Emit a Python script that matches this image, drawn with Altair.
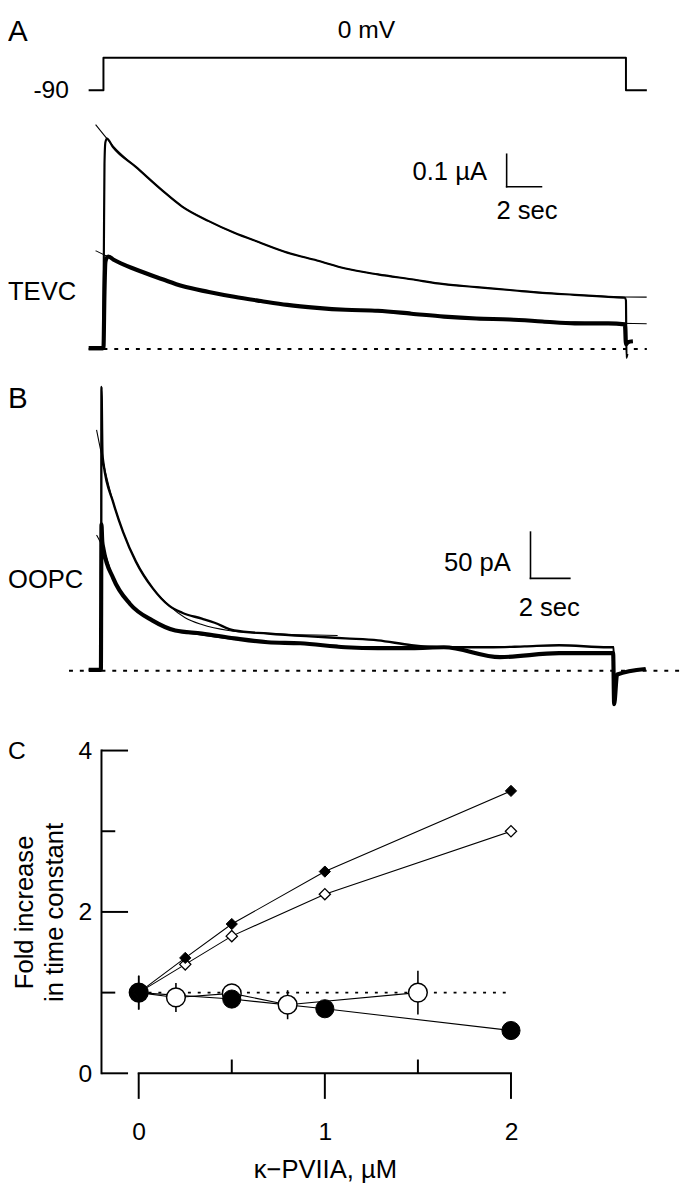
import altair as alt
import pandas as pd

FONT = "Liberation Sans"

# ---------------- Panel A : TEVC (time s, current uA, voltage mV) ----------------
a_step_t = [-0.85, 0.0, 0.0, 30.0, 30.0, 31.2]
a_step_v = [-90, -90, 0, 0, -90, -90]

a_up_t = [-0.85, -0.03, 0.02, 0.06, 0.11, 0.20, 0.56, 1.86, 3.39, 4.52, 6.05, 7.51, 9.04, 10.56,
          12.26, 13.90, 15.76, 17.68, 19.55, 21.41, 23.33, 25.20, 27.06, 28.98, 29.94, 30.00, 30.03, 30.08]
a_up_i = [0.000, 0.000, 0.267, 0.570, 0.636, 0.648, 0.621, 0.561, 0.488, 0.439, 0.394, 0.358, 0.327, 0.297,
          0.273, 0.248, 0.230, 0.215, 0.200, 0.191, 0.182, 0.173, 0.167, 0.161, 0.158, 0.150, -0.027, -0.015]

a_upfit_t = [-0.45, 0.20, 0.56, 1.86, 3.39, 4.52, 6.05, 7.51, 9.04, 10.56, 12.26, 13.90, 15.76, 17.68,
             19.55, 21.41, 23.33, 25.20, 27.06, 28.98, 31.19]
a_upfit_i = [0.691, 0.648, 0.625, 0.561, 0.488, 0.439, 0.394, 0.358, 0.327, 0.297, 0.273, 0.248, 0.230, 0.215,
             0.200, 0.191, 0.182, 0.174, 0.167, 0.162, 0.160]

a_lo_t = [-0.85, 0.00, 0.06, 0.11, 0.17, 0.28, 0.56, 1.86, 3.39, 4.52, 6.05, 7.51, 9.04, 10.56,
          12.26, 13.90, 15.76, 17.68, 19.55, 21.41, 23.33, 25.20, 27.06, 28.98, 29.94, 30.00, 30.11, 30.40]
a_lo_i = [0.003, 0.003, 0.176, 0.267, 0.279, 0.285, 0.276, 0.245, 0.215, 0.194, 0.176, 0.161, 0.148, 0.136,
          0.127, 0.121, 0.118, 0.109, 0.100, 0.094, 0.091, 0.085, 0.079, 0.079, 0.076, 0.015, 0.021, 0.024]

a_lofit_t = [-0.45, 0.17, 0.56, 1.86, 3.39, 4.52, 6.05, 7.51, 9.04, 10.56, 12.26, 13.90, 15.76, 17.68,
             19.55, 21.41, 23.33, 25.20, 27.06, 28.98, 31.19]
a_lofit_i = [0.303, 0.287, 0.277, 0.246, 0.216, 0.196, 0.177, 0.162, 0.149, 0.138, 0.128, 0.121, 0.115, 0.108,
             0.101, 0.096, 0.091, 0.086, 0.083, 0.080, 0.078]

a_base_t = [0.0, 31.2]
a_bar_t0, a_bar_i0, a_bar_dt, a_bar_di = 23.15, 0.50, 2.0, 0.10

# ---------------- Panel B : OOPC (time s, current pA) ----------------
b_up_t = [-0.65, -0.02, 0.00, 0.05, 0.10, 0.60, 1.10, 1.75, 2.60, 3.45, 4.10, 5.10, 5.75, 6.75,
          8.45, 10.40, 12.40, 14.05, 15.75, 17.40, 19.90, 21.50, 23.25, 25.75, 26.03, 26.05, 26.20, 27.65]
b_up_i = [1, 1, 307, 235, 224.5, 181.9, 150.0, 118.1, 89.4, 70.2, 62.8, 56.4, 52.0, 43.6,
          40.4, 37.5, 35.1, 33.0, 27.7, 25.5, 25.5, 26.5, 27.7, 25.5, 25.5, -36, -4, 2]

b_lo_t = [-0.65, -0.03, 0.00, 0.04, 0.10, 0.60, 1.45, 2.60, 3.75, 5.10, 6.75, 8.45, 10.10, 12.40,
          14.05, 15.75, 17.40, 20.25, 23.25, 26.00, 26.05, 26.20, 27.65]
b_lo_i = [1, 1, 158.5, 140.0, 131.9, 100.0, 72.3, 54.3, 43.6, 40.4, 35.1, 30.9, 29.8, 25.5,
          24.5, 24.5, 25.5, 14.9, 19.1, 19.1, -36, -4, 2]

b_upfit_t = [-0.25, 0.10, 0.60, 1.10, 1.75, 2.60, 3.45, 4.25, 5.10, 6.45, 8.45, 12.00]
b_upfit_i = [260.6, 224.5, 181.9, 150.0, 118.1, 89.4, 70.2, 57.4, 50.0, 43.6, 40.4, 38.3]

b_lofit_t = [-0.25, 0.10, 0.60, 1.45, 2.60, 3.75, 5.10, 6.75, 8.45, 12.00]
b_lofit_i = [146.8, 131.9, 100.0, 72.3, 54.3, 43.6, 38.5, 34.0, 31.0, 27.5]

b_base_t = [-1.65, 29.4]
b_bar_t0, b_bar_i0, b_bar_dt, b_bar_di = 21.8, 100.0, 2.0, 50.0

# ---------------- Panel C : fold increase vs kappa-PVIIA ----------------
c_fd_x = [0, 0.25, 0.5, 1, 2]
c_fd_y = [1.0, 1.43, 1.85, 2.50, 3.50]
c_od_x = [0, 0.25, 0.5, 1, 2]
c_od_y = [1.0, 1.35, 1.70, 2.22, 3.00]
c_fc_x = [0, 0.5, 1, 2]
c_fc_y = [1.0, 0.92, 0.80, 0.53]
c_fc_err = [0.21, 0.0, 0.0, 0.0]
c_oc_x = [0, 0.2, 0.5, 0.8, 1.5]
c_oc_y = [1.0, 0.94, 0.99, 0.85, 1.0]
c_oc_err = [0.21, 0.18, 0.05, 0.18, 0.27]
c_ref_x = [0, 2]
c_ref_y = [1, 1]
c_y_major = [0, 2, 4]
c_y_minor = [1, 3]
c_x_major = [0, 1, 2]
c_x_minor = [0.5, 1.5]


# ---------------- helpers ----------------
def trace(t, y, xs, ys, w, interp="monotone", dash=None):
    d = pd.DataFrame({"t": t, "y": y, "o": list(range(len(t)))})
    mk = dict(color="black", strokeWidth=w, interpolate=interp, strokeJoin="round")
    if dash is not None:
        mk["strokeDash"] = dash
    return alt.Chart(d).mark_line(**mk).encode(
        x=alt.X("t:Q", scale=xs, axis=None),
        y=alt.Y("y:Q", scale=ys, axis=None),
        order="o:Q",
    )


def ptext(txt, x, y, size, align="left", baseline="middle"):
    return alt.Chart(pd.DataFrame({"s": [txt]})).mark_text(
        font=FONT, fontSize=size, align=align, baseline=baseline, color="black"
    ).encode(x=alt.value(x), y=alt.value(y), text="s:N")


def dtext(txt, xv, yv, xs, ys, size, align="center", baseline="middle", dx=0, dy=0):
    d = pd.DataFrame({"s": [txt], "x": [xv], "y": [yv]})
    return alt.Chart(d).mark_text(
        font=FONT, fontSize=size, align=align, baseline=baseline, dx=dx, dy=dy, color="black"
    ).encode(x=alt.X("x:Q", scale=xs, axis=None), y=alt.Y("y:Q", scale=ys, axis=None), text="s:N")


def scalebar(t0, i0, dt, di, xs, ys):
    v = alt.Chart(pd.DataFrame({"t": [t0], "y": [i0], "y2": [i0 + di]})).mark_rule(
        color="black", strokeWidth=1.6, strokeCap="square"
    ).encode(x=alt.X("t:Q", scale=xs, axis=None), y=alt.Y("y:Q", scale=ys, axis=None), y2="y2:Q")
    h = alt.Chart(pd.DataFrame({"t": [t0], "t2": [t0 + dt], "y": [i0]})).mark_rule(
        color="black", strokeWidth=1.6, strokeCap="square"
    ).encode(x=alt.X("t:Q", scale=xs, axis=None), x2="t2:Q", y=alt.Y("y:Q", scale=ys, axis=None))
    return [v, h]


# ---------------- Panel A ----------------
W_AB = 592
H_A, H_B = 370, 362
xA = alt.Scale(domain=[-0.113, 33.333])
iA = alt.Scale(domain=[-0.10303, 1.01818])
vA = alt.Scale(domain=[-900, 109.09])

layersA = [
    trace(a_base_t, [0, 0], xA, iA, 2, interp="linear", dash=[4, 7]),
    trace(a_step_t, a_step_v, xA, vA, 2, interp="linear"),
    trace(a_up_t, a_up_i, xA, iA, 2.2),
    trace(a_upfit_t, a_upfit_i, xA, iA, 1.1),
    trace(a_lo_t, a_lo_i, xA, iA, 4.2),
    trace(a_lofit_t, a_lofit_i, xA, iA, 1.1),
    *scalebar(a_bar_t0, a_bar_i0, a_bar_dt, a_bar_di, xA, iA),
    dtext("0.1 µA", a_bar_t0, a_bar_i0 + a_bar_di / 2, xA, iA, 26, align="right", dx=-20, dy=2),
    dtext("2 sec", a_bar_t0 + a_bar_dt / 2, a_bar_i0, xA, iA, 26, dx=3, dy=25),
    dtext("0 mV", 15.1, 0, xA, vA, 25, dy=-28),
    dtext("-90", a_step_t[0], -90, xA, vA, 25, align="right", dx=-20),
    ptext("A", -95, 14, 30),
    ptext("TEVC", -95, 278, 26),
]
panelA = alt.layer(*layersA).resolve_scale(y="independent").properties(width=W_AB, height=H_A)

# ---------------- Panel B ----------------
xB = alt.Scale(domain=[0, 29.6])
iB = alt.Scale(domain=[-73.4, 311.7])
layersB = [
    trace(b_base_t, [0, 0], xB, iB, 2, interp="linear", dash=[4, 7]),
    trace(b_up_t, b_up_i, xB, iB, 2.4),
    trace(b_upfit_t, b_upfit_i, xB, iB, 1.1),
    trace(b_lo_t, b_lo_i, xB, iB, 4.2),
    trace(b_lofit_t, b_lofit_i, xB, iB, 1.1),
    *scalebar(b_bar_t0, b_bar_i0, b_bar_dt, b_bar_di, xB, iB),
    dtext("50 pA", b_bar_t0, b_bar_i0 + b_bar_di / 2, xB, iB, 26, align="right", dx=-20, dy=8),
    dtext("2 sec", b_bar_t0 + b_bar_dt / 2, b_bar_i0, xB, iB, 26, dx=-1, dy=30),
    ptext("B", -95, 17, 30),
    ptext("OOPC", -95, 201, 26),
]
panelB = alt.layer(*layersB).properties(width=W_AB, height=H_B)

# ---------------- Panel C ----------------
W_C, H_C = 454, 328
xC = alt.Scale(domain=[-0.2, 2.2])
yC = alt.Scale(domain=[0, 4])
axX = alt.Axis(values=c_x_major, format="d", title="κ−PVIIA, µM", domain=False, ticks=False, tickSize=0,
               grid=False, labelPadding=47, labelFontSize=25, labelFont=FONT, labelColor="black",
               titleFontSize=26, titleFont=FONT, titleFontWeight="normal", titleColor="black",
               titlePadding=13, labelOverlap=False)
axY = alt.Axis(values=c_y_major, format="d", title=["Fold increase", "in time constant"], domain=False,
               ticks=False, tickSize=0, grid=False, labelPadding=10, labelFontSize=25, labelFont=FONT,
               labelColor="black", titleFontSize=26, titleFont=FONT, titleFontWeight="normal",
               titleColor="black", titlePadding=11, titleLineHeight=30, labelOverlap=False)

XC = lambda f="x": alt.X(f + ":Q", scale=xC, axis=axX)
YC = lambda f="y": alt.Y(f + ":Q", scale=yC, axis=axY)

yaxis_line = alt.Chart(pd.DataFrame({"y": [min(c_y_major)], "y2": [max(c_y_major)]})).mark_rule(
    color="black", strokeWidth=2, strokeCap="square").encode(x=alt.value(0), y=YC(), y2="y2:Q")
yticks_major = alt.Chart(pd.DataFrame({"y": c_y_major})).mark_rule(color="black", strokeWidth=2).encode(
    x=alt.value(0), x2=alt.value(27), y=YC())
yticks_minor = alt.Chart(pd.DataFrame({"y": c_y_minor})).mark_rule(color="black", strokeWidth=2).encode(
    x=alt.value(0), x2=alt.value(14), y=YC())
xaxis_line = alt.Chart(pd.DataFrame({"x": [min(c_x_major)], "x2": [max(c_x_major)]})).mark_rule(
    color="black", strokeWidth=2, strokeCap="square").encode(y=alt.value(H_C), x=XC(), x2="x2:Q")
xticks_major = alt.Chart(pd.DataFrame({"x": c_x_major})).mark_rule(color="black", strokeWidth=2).encode(
    x=XC(), y=alt.value(H_C), y2=alt.value(H_C + 26))
xticks_minor = alt.Chart(pd.DataFrame({"x": c_x_minor})).mark_rule(color="black", strokeWidth=2).encode(
    x=XC(), y=alt.value(H_C), y2=alt.value(H_C - 14))

ref_line = alt.Chart(pd.DataFrame({"x": c_ref_x, "y": c_ref_y})).mark_line(
    color="black", strokeWidth=2, strokeDash=[3, 7]).encode(x=XC(), y=YC())


def conn(xs_, ys_):
    return alt.Chart(pd.DataFrame({"x": xs_, "y": ys_})).mark_line(color="black", strokeWidth=1.1).encode(
        x=XC(), y=YC())


err_df = pd.DataFrame({
    "x": c_fc_x + c_oc_x,
    "lo": [y - e for y, e in zip(c_fc_y + c_oc_y, c_fc_err + c_oc_err)],
    "hi": [y + e for y, e in zip(c_fc_y + c_oc_y, c_fc_err + c_oc_err)],
})
err_df = err_df[err_df["hi"] > err_df["lo"]]
errbars = alt.Chart(err_df).mark_rule(color="black", strokeWidth=1.6).encode(x=XC(), y=YC("lo"), y2="hi:Q")

open_circ = alt.Chart(pd.DataFrame({"x": c_oc_x, "y": c_oc_y})).mark_point(
    shape="circle", filled=True, fill="white", stroke="black", strokeWidth=1.5, size=361, opacity=1
).encode(x=XC(), y=YC())
fill_circ = alt.Chart(pd.DataFrame({"x": c_fc_x, "y": c_fc_y})).mark_point(
    shape="circle", filled=True, fill="black", stroke="black", strokeWidth=1, size=340, opacity=1
).encode(x=XC(), y=YC())
open_diam = alt.Chart(pd.DataFrame({"x": c_od_x, "y": c_od_y})).mark_point(
    shape="diamond", filled=True, fill="white", stroke="black", strokeWidth=1.3, size=130, opacity=1
).encode(x=XC(), y=YC())
fill_diam = alt.Chart(pd.DataFrame({"x": c_fd_x, "y": c_fd_y})).mark_point(
    shape="diamond", filled=True, fill="black", stroke="black", strokeWidth=1, size=130, opacity=1
).encode(x=XC(), y=YC())

layersC = [
    yaxis_line, yticks_major, yticks_minor, xaxis_line, xticks_major, xticks_minor,
    ref_line,
    conn(c_fd_x, c_fd_y), conn(c_od_x, c_od_y), conn(c_fc_x, c_fc_y), conn(c_oc_x, c_oc_y),
    errbars, open_circ, fill_circ, open_diam, fill_diam,
    ptext("C", -95, 1, 25),
]
panelC = alt.layer(*layersC).properties(width=W_C, height=H_C)

chart = alt.vconcat(panelA, panelB, panelC, spacing=0).properties(
    padding=0, background="white"
).configure(font=FONT).configure_view(stroke="transparent", strokeWidth=0)

chart.save("out.html", embed_options={"renderer": "svg", "actions": False})
